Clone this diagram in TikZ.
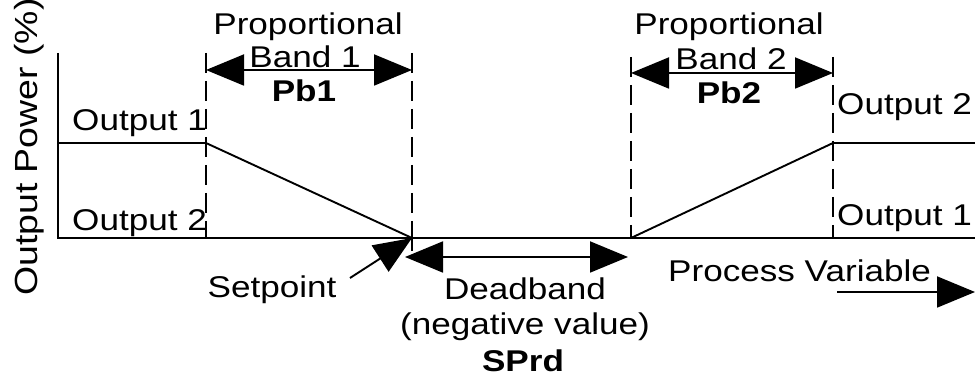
\documentclass[tikz,border=0pt]{standalone}
\usepackage{fontspec}
\setmainfont{Liberation Sans}[FakeStretch=1.17]
\usetikzlibrary{arrows.meta}
\begin{document}
\begin{tikzpicture}[x=1pt,y=-1pt,
  lbl/.style={inner sep=0pt,font=\fontsize{30}{34}\selectfont},
  blbl/.style={lbl,font=\fontsize{30}{34}\selectfont\bfseries},
  curve/.style={line width=1.9pt},
  guide/.style={line width=1.6pt,dash pattern=on 20pt off 8pt},
  bigarrow/.style={line width=1.9pt,-{Triangle[length=38pt,width=31pt]}},
  dimarrow/.style={line width=1.9pt,{Triangle[length=38pt,width=31pt]}-{Triangle[length=38pt,width=31pt]}}]
\useasboundingbox (0,0) rectangle (975,379);
% key points
\coordinate (ytop) at (58,53);
\coordinate (O) at (58,238);
\coordinate (L) at (58,143);
\coordinate (A1) at (206,143);
\coordinate (SP) at (412,238);
\coordinate (A2) at (631,238);
\coordinate (B2) at (833,143);
\coordinate (E) at (975,143);
\coordinate (R) at (975,238);
\coordinate (d1t) at (206,53);
\coordinate (d1b) at (206,238);
\coordinate (d2t) at (412,53);
\coordinate (d3t) at (631,57);
\coordinate (d4t) at (833,57);
\coordinate (d4b) at (833,238);
\coordinate (p1l) at (206,70);
\coordinate (p1r) at (412,70);
\coordinate (p2l) at (631,73);
\coordinate (p2r) at (833,73);
\coordinate (tick) at (412,251);
\coordinate (dbl) at (405,257);
\coordinate (dbr) at (628,257);
\coordinate (sptail) at (350,278);
\coordinate (pvl) at (837,292);
\coordinate (pvr) at (975,292);
% axes and curves
\draw[curve] (ytop) -- (O) -- (R);
\draw[curve] (L) -- (A1) -- (SP);
\draw[curve] (A2) -- (B2) -- (E);
\draw[curve] (SP) -- (tick);
% dashed guides
\draw[guide] (d1t) -- (d1b);
\draw[guide] (d2t) -- (SP);
\draw[guide] (d3t) -- (A2);
\draw[guide] (d4t) -- (d4b);
% dimension arrows
\draw[dimarrow] (p1l) -- (p1r);
\draw[dimarrow] (p2l) -- (p2r);
\draw[dimarrow] (dbl) -- (dbr);
\draw[bigarrow] (sptail) -- (SP);
\draw[bigarrow] (pvl) -- (pvr);
% labels
\node[lbl,anchor=base] (prop1) at (308,35) {Proportional};
\node[lbl,anchor=base] (band1) at (305,68) {Band 1};
\node[blbl,anchor=base] (pb1) at (304,102) {Pb1};
\node[lbl,anchor=base] (prop2) at (729,35) {Proportional};
\node[lbl,anchor=base] (band2) at (731,70) {Band 2};
\node[blbl,anchor=base] (pb2) at (729,104) {Pb2};
\node[lbl,anchor=base west] (o1l) at (72,131) {Output 1};
\node[lbl,anchor=base west] (o2l) at (72,231) {Output 2};
\node[lbl,anchor=base west] (o2r) at (837,115) {Output 2};
\node[lbl,anchor=base west] (o1r) at (837,226) {Output 1};
\node[lbl,anchor=base] (setp) at (272,298) {Setpoint};
\node[lbl,anchor=base] (dead) at (525,300) {Deadband};
\node[lbl,anchor=base] (neg) at (525,335) {(negative value)};
\node[blbl,anchor=base] (sprd) at (523,371) {SPrd};
\node[lbl,anchor=base west] (pv) at (668,282) {Process Variable};
\node[lbl,anchor=base,rotate=90,font=\fontsize{32}{36}\selectfont] (ylab) at (37,147) {Output Power (\%)};
\end{tikzpicture}
\end{document}
